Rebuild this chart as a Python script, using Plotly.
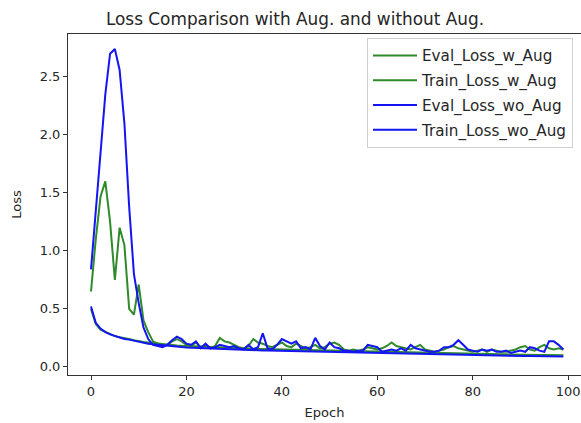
import plotly.graph_objects as go

epochs = list(range(100))

eval_loss_w_aug = [
    0.65, 1.10, 1.47, 1.60, 1.25, 0.75, 1.20, 1.05, 0.50, 0.45,
    0.71, 0.40, 0.30, 0.22, 0.20, 0.18, 0.19, 0.22, 0.24, 0.22,
    0.19, 0.18, 0.21, 0.17, 0.19, 0.16, 0.18, 0.25, 0.22, 0.21,
    0.19, 0.17, 0.16, 0.18, 0.24, 0.21, 0.20, 0.18, 0.17, 0.19,
    0.21, 0.18, 0.17, 0.20, 0.18, 0.16, 0.17, 0.19, 0.16, 0.17,
    0.20, 0.21, 0.19, 0.15, 0.14, 0.15, 0.14, 0.15, 0.17, 0.16,
    0.15, 0.16, 0.18, 0.21, 0.18, 0.17, 0.16, 0.15, 0.17, 0.19,
    0.15, 0.14, 0.13, 0.14, 0.15, 0.17, 0.18, 0.16, 0.15, 0.14,
    0.13, 0.14, 0.15, 0.13, 0.15, 0.14, 0.13, 0.13, 0.14, 0.15,
    0.17, 0.18, 0.15, 0.14, 0.17, 0.19, 0.16, 0.15, 0.16, 0.15,
]

train_loss_w_aug = [
    0.50, 0.37, 0.32, 0.30, 0.28, 0.265, 0.255, 0.25, 0.24, 0.23,
    0.22, 0.215, 0.21, 0.205, 0.20, 0.195, 0.19, 0.188, 0.185, 0.182,
    0.18, 0.178, 0.175, 0.173, 0.171, 0.17, 0.168, 0.166, 0.165, 0.163,
    0.162, 0.16, 0.159, 0.158, 0.157, 0.155, 0.154, 0.153, 0.152, 0.151,
    0.15, 0.149, 0.148, 0.147, 0.146, 0.145, 0.144, 0.143, 0.142, 0.141,
    0.14, 0.139, 0.138, 0.137, 0.136, 0.135, 0.134, 0.133, 0.132, 0.131,
    0.13, 0.129, 0.128, 0.127, 0.126, 0.125, 0.124, 0.123, 0.122, 0.121,
    0.12, 0.119, 0.118, 0.118, 0.117, 0.116, 0.115, 0.115, 0.114, 0.113,
    0.112, 0.112, 0.111, 0.11, 0.11, 0.109, 0.108, 0.108, 0.107, 0.107,
    0.106, 0.105, 0.105, 0.104, 0.104, 0.103, 0.103, 0.102, 0.102, 0.101,
]

eval_loss_wo_aug = [
    0.84, 1.35, 1.90, 2.35, 2.70, 2.74, 2.56, 2.10, 1.38, 0.80,
    0.55, 0.34, 0.24, 0.19, 0.18, 0.17, 0.19, 0.23, 0.26, 0.24,
    0.20, 0.19, 0.22, 0.16, 0.20, 0.16, 0.17, 0.19, 0.18, 0.17,
    0.18, 0.16, 0.15, 0.19, 0.15, 0.17, 0.29, 0.16, 0.15, 0.19,
    0.24, 0.22, 0.20, 0.22, 0.16, 0.17, 0.15, 0.25, 0.18, 0.15,
    0.21, 0.17, 0.16, 0.14, 0.14, 0.13, 0.14, 0.14, 0.19, 0.18,
    0.17, 0.13, 0.14, 0.15, 0.14, 0.16, 0.14, 0.19, 0.16, 0.15,
    0.14, 0.13, 0.13, 0.14, 0.17, 0.17, 0.19, 0.23, 0.19, 0.15,
    0.14, 0.13, 0.15, 0.14, 0.15, 0.13, 0.13, 0.14, 0.12, 0.13,
    0.14, 0.13, 0.17, 0.16, 0.14, 0.13, 0.22, 0.22, 0.19, 0.15,
]

train_loss_wo_aug = [
    0.52, 0.38, 0.33, 0.30, 0.28, 0.265, 0.25, 0.24, 0.235, 0.225,
    0.215, 0.21, 0.20, 0.195, 0.19, 0.185, 0.18, 0.177, 0.174, 0.171,
    0.168, 0.166, 0.164, 0.162, 0.16, 0.158, 0.156, 0.155, 0.153, 0.152,
    0.15, 0.149, 0.147, 0.146, 0.145, 0.143, 0.142, 0.141, 0.14, 0.139,
    0.137, 0.136, 0.135, 0.134, 0.133, 0.132, 0.131, 0.13, 0.129, 0.128,
    0.127, 0.126, 0.125, 0.124, 0.123, 0.122, 0.121, 0.12, 0.119, 0.118,
    0.117, 0.116, 0.115, 0.114, 0.113, 0.112, 0.111, 0.11, 0.109, 0.108,
    0.107, 0.106, 0.106, 0.105, 0.104, 0.103, 0.102, 0.102, 0.101, 0.1,
    0.099, 0.099, 0.098, 0.097, 0.097, 0.096, 0.096, 0.095, 0.095, 0.094,
    0.094, 0.093, 0.093, 0.092, 0.092, 0.091, 0.091, 0.09, 0.09, 0.09,
]

x_ticks = [0, 20, 40, 60, 80, 100]
y_ticks = [0.0, 0.5, 1.0, 1.5, 2.0, 2.5]
y_tick_labels = ["0.0", "0.5", "1.0", "1.5", "2.0", "2.5"]

GREEN = "#2f8a2a"
BLUE = "#1414f5"

series = [
    ("Eval_Loss_w_Aug", eval_loss_w_aug, GREEN),
    ("Train_Loss_w_Aug", train_loss_w_aug, GREEN),
    ("Eval_Loss_wo_Aug", eval_loss_wo_aug, BLUE),
    ("Train_Loss_wo_Aug", train_loss_wo_aug, BLUE),
]

fig = go.Figure()
for i, (name, vals, col) in enumerate(series):
    fig.add_trace(go.Scatter(x=epochs, y=vals, mode="lines", name=name,
                             legendgroup=f"g{i}",
                             line=dict(color=col, width=2)))

font = "DejaVu Sans, sans-serif"
fig.update_layout(
    width=581, height=423,
    margin=dict(l=68, r=0, t=34, b=48, autoexpand=False),
    paper_bgcolor="white", plot_bgcolor="white",
    font=dict(family=font, size=13, color="#262626"),
    title=dict(text="Loss Comparison with Aug. and without Aug.",
               x=295 / 581, xanchor="center", y=1 - 19 / 423, yanchor="middle",
               automargin=False,
               font=dict(size=16.9, color="#262626")),
    showlegend=True,
    legend=dict(x=(367 - 68) / 513, xanchor="left", y=0.988, yanchor="top",
                bgcolor="white", bordercolor="#d0d0d0", borderwidth=1,
                itemwidth=44,
                font=dict(size=15.2, color="#262626"), tracegroupgap=2),
    xaxis=dict(range=[-4.82, 102.7], tickvals=x_ticks, showgrid=False,
               automargin=False,
               zeroline=False, showline=True, linecolor="#333", linewidth=1,
               mirror=True, ticks="outside", ticklen=4, tickcolor="#333",
               title=dict(text="Epoch", standoff=10, font=dict(size=13))),
    yaxis=dict(range=[-0.07, 2.87], tickvals=y_ticks, ticktext=y_tick_labels,
               automargin=False,
               showgrid=False, zeroline=False, showline=True, linecolor="#333",
               linewidth=1, ticks="outside", ticklen=4, tickcolor="#333",
               title=dict(text="Loss", standoff=15, font=dict(size=13))),
)

fig.write_html(
    "out.html",
    config={"displayModeBar": False},
    post_script="document.body.style.margin='0px';document.body.style.overflow='hidden';",
)
